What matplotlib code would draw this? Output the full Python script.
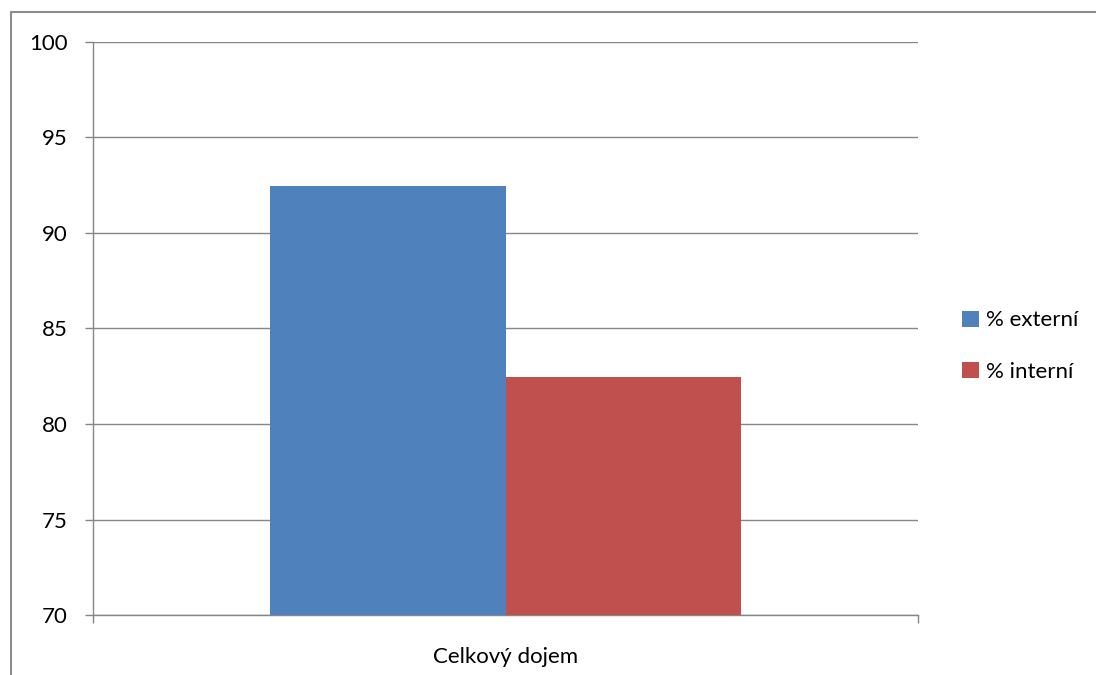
import matplotlib.pyplot as plt
from matplotlib.lines import Line2D

# Data
category = "Celkový dojem"
series = ["% externí", "% interní"]
values = [92.45, 82.45]
colors = ["#4F81BD", "#C0504D"]
yticks = [70, 75, 80, 85, 90, 95, 100]

plt.rcParams['font.family'] = ['Lato', 'DejaVu Sans']

W, H = 1096, 675
fig = plt.figure(figsize=(W / 100, H / 100), dpi=100)

# chart frame: only the left and top edges fall inside the image
frame_x, frame_y = 10.5 / W, 1 - 12 / H
fig.add_artist(Line2D([frame_x, frame_x, 1.0], [0.0, frame_y, frame_y],
                      transform=fig.transFigure, color='#8C8C8C',
                      linewidth=1.5))

ax = fig.add_axes([93 / W, 60 / H, 825 / W, 573 / H])

bar_w = 0.286
centre = 0.5
offsets = [-bar_w / 2, bar_w / 2]
for name, v, c, off in zip(series, values, colors, offsets):
    ax.bar(centre + off, v - 70, width=bar_w, bottom=70, color=c,
           label=name, zorder=3)

ax.set_xlim(0, 1)
ax.set_ylim(70, 100)
ax.set_yticks(yticks)
ax.tick_params(axis='y', labelsize=16, length=6, color='#868686',
               width=1, pad=12, direction='out')
ax.set_xticks([0, 1])
ax.set_xticklabels([])
ax.tick_params(axis='x', length=6, color='#868686', width=1, direction='out')
ax.text(centre, -0.055, category, transform=ax.transAxes, ha='center',
        va='top', fontsize=16)

ax.grid(axis='y', color='#868686', linewidth=1, zorder=0)
for s in ['top', 'right']:
    ax.spines[s].set_visible(False)
for s in ['left', 'bottom']:
    ax.spines[s].set_color('#868686')
    ax.spines[s].set_linewidth(1)

ax.legend(loc='center left', bbox_to_anchor=(1.029, 0.4695), frameon=False,
          fontsize=16, handlelength=0.75, handleheight=0.75,
          handletextpad=0.35, labelspacing=1.4)

fig.savefig("out.png", dpi=100)
